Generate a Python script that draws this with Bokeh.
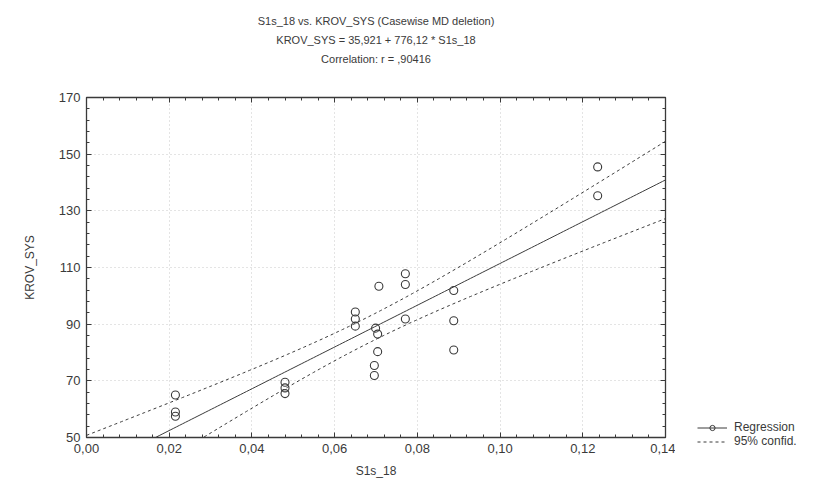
import numpy as np
from bokeh.plotting import figure
from bokeh.layouts import column, row
from bokeh.models import (FixedTicker, Title, Legend, LegendItem,
                          Range1d, LinearAxis, CustomJSTickFormatter)
from bokeh.embed import file_html
from bokeh.resources import INLINE

# ---- data ----
s1s_18 = [0.0215, 0.0215, 0.0215, 0.048, 0.048, 0.048,
          0.065, 0.065, 0.065, 0.0707, 0.0699, 0.0704, 0.0704, 0.0696, 0.0696,
          0.0771, 0.0771, 0.0771, 0.0888, 0.0888, 0.0888, 0.1236, 0.1236]
krov_sys = [65, 59, 57.5, 69.5, 67.5, 65.5,
            94.3, 91.8, 89.3, 103.4, 88.6, 86.5, 80.3, 75.4, 71.9,
            107.8, 104, 91.8, 101.9, 91.2, 80.9, 145.5, 135.3]

x_ticks = [0.00, 0.02, 0.04, 0.06, 0.08, 0.10, 0.12, 0.14]
x_tick_labels = ["0,00", "0,02", "0,04", "0,06", "0,08", "0,10", "0,12", "0,14"]
y_ticks = [50, 70, 90, 110, 130, 150, 170]
y_tick_labels = ["50", "70", "90", "110", "130", "150", "170"]

title_lines = ["S1s_18 vs. KROV_SYS (Casewise MD deletion)",
               "KROV_SYS = 35,921 + 776,12 * S1s_18",
               "Correlation: r = ,90416"]
x_label = "S1s_18"
y_label = "KROV_SYS"
legend_labels = ["Regression", "95% confid."]
t_crit = 2.08  # Student t, 95%, n-2 df

# ---- regression and confidence band computed from the points ----
xa = np.array(s1s_18)
ya = np.array(krov_sys)
slope, intercept = np.polyfit(xa, ya, 1)
n = len(xa)
resid = ya - (intercept + slope * xa)
s = np.sqrt(np.sum(resid ** 2) / (n - 2))
sxx = np.sum((xa - xa.mean()) ** 2)
xg = np.linspace(x_ticks[0], x_ticks[-1], 200)
yg = intercept + slope * xg
half = t_crit * s * np.sqrt(1.0 / n + (xg - xa.mean()) ** 2 / sxx)

FONT = "Liberation Sans"
INK = "#3a3a3a"

W = 804
BL = 86
FRAME_W, FRAME_H = 579, 342
BR_MAIN = 10
W_MAIN = BL + FRAME_W + BR_MAIN
LEG_W = W - W_MAIN
TOP_H = 91           # title strip height
BT = 6               # main figure top border
BB = 41
H_MAIN = BT + FRAME_H + BB


def minor_of(ticks):
    return list(np.linspace(ticks[0], ticks[-1], (len(ticks) - 1) * 5 + 1))


# ---- title strip ----
pt = figure(width=W, height=TOP_H, output_backend="svg", toolbar_location=None,
            x_range=Range1d(0, 1), y_range=Range1d(0, 1),
            min_border_left=BL, min_border_right=W - BL - FRAME_W, min_border_top=67,
            min_border_bottom=0, outline_line_color=None,
            background_fill_color="white", border_fill_color="white")
pt.frame_align = False
pt.axis.visible = False
pt.grid.visible = False
for txt in reversed(title_lines):
    pt.add_layout(Title(text=txt, align="center", text_font=FONT,
                        text_font_size="11px", text_font_style="normal",
                        text_color=INK, standoff=5), "above")

# ---- main plot ----
p = figure(width=W_MAIN, height=H_MAIN, output_backend="svg", toolbar_location=None,
           x_range=Range1d(x_ticks[0], x_ticks[-1]),
           y_range=Range1d(y_ticks[0], y_ticks[-1]),
           min_border_left=BL, min_border_right=BR_MAIN,
           min_border_top=BT, min_border_bottom=BB,
           background_fill_color="white", border_fill_color="white",
           outline_line_color=INK, outline_line_width=1.3)

for ax, ticks, labels, lab in ((p.xaxis[0], x_ticks, x_tick_labels, x_label),
                               (p.yaxis[0], y_ticks, y_tick_labels, y_label)):
    ax.ticker = FixedTicker(ticks=ticks, minor_ticks=minor_of(ticks))
    ax.major_label_overrides = {t: l for t, l in zip(ticks, labels)}
    ax.axis_label = lab
    ax.axis_label_text_font = FONT
    ax.axis_label_text_font_size = "12px"
    ax.axis_label_text_font_style = "normal"
    ax.axis_label_text_color = INK
    ax.major_label_text_font = FONT
    ax.major_label_text_font_size = "13px"
    ax.major_label_text_color = INK
    ax.axis_line_color = INK
    ax.major_tick_line_color = INK
    ax.minor_tick_line_color = INK
    ax.major_tick_in = 5
    ax.major_tick_out = 0
    ax.minor_tick_in = 3
    ax.minor_tick_out = 0
p.yaxis[0].major_label_standoff = 6
p.yaxis[0].axis_label_standoff = 19
p.xaxis[0].major_label_standoff = 6
p.xaxis[0].axis_label_standoff = 8

# mirrored axes (ticks only, no labels)
for loc, ticks in (("above", x_ticks), ("right", y_ticks)):
    ax2 = LinearAxis(ticker=FixedTicker(ticks=ticks, minor_ticks=minor_of(ticks)),
                     formatter=CustomJSTickFormatter(code="return '';"),
                     major_label_standoff=0, axis_line_color=INK,
                     major_tick_line_color=INK, minor_tick_line_color=INK,
                     major_tick_in=5, major_tick_out=0, minor_tick_in=3, minor_tick_out=0)
    p.add_layout(ax2, loc)

p.xgrid.grid_line_color = "#c8c8c8"
p.ygrid.grid_line_color = "#c8c8c8"
p.xgrid.grid_line_dash = "1 3"
p.ygrid.grid_line_dash = "1 3"

p.line(xg, yg, line_color=INK, line_width=1)
p.line(xg, yg + half, line_color=INK, line_width=1, line_dash="3 3")
p.line(xg, yg - half, line_color=INK, line_width=1, line_dash="3 3")
p.scatter(xa, ya, marker="circle", size=8, fill_color=None,
          line_color=INK, line_width=1.1)

# ---- legend strip on the right (own figure so the legend is not clipped) ----
lf = figure(width=LEG_W, height=H_MAIN, output_backend="svg", toolbar_location=None,
            x_range=Range1d(0, 1), y_range=Range1d(0, 1), min_border=0,
            outline_line_color=None, background_fill_color="white",
            border_fill_color="white")
lf.frame_align = False
lf.axis.visible = False
lf.grid.visible = False
nan = [float("nan")]
r_line = lf.line(nan, nan, line_color=INK, line_width=1)
r_pt = lf.scatter(nan, nan, marker="circle", size=6, fill_color=None,
                  line_color=INK, line_width=1)
r_ci = lf.line(nan, nan, line_color=INK, line_width=1, line_dash="3 3")
legend = Legend(items=[LegendItem(label=legend_labels[0], renderers=[r_line, r_pt]),
                       LegendItem(label=legend_labels[1], renderers=[r_ci])],
                location=(22, 32), orientation="vertical",
                label_text_font=FONT, label_text_font_size="12px",
                label_text_color=INK, border_line_color=None,
                background_fill_alpha=0, glyph_width=30, glyph_height=13,
                label_height=13, spacing=0, padding=0, margin=0,
                label_standoff=7)
lf.add_layout(legend, "center")

layout = column(pt, row(p, lf))
open("out.html", "w").write(file_html(layout, INLINE))
